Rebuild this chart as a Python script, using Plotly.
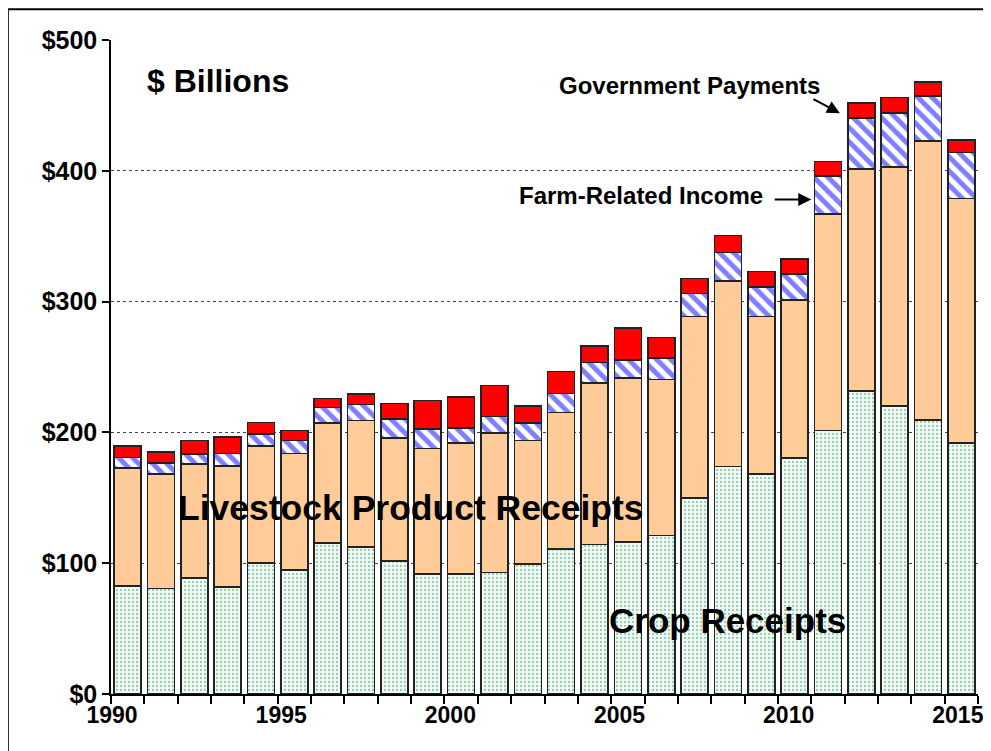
import plotly.graph_objects as go

# Values in $ billions
years = list(range(1990, 2016))
crop_receipts = [82.7, 80.7, 88.6, 82.0, 100.1, 94.7, 115.4, 112.3, 101.6, 91.9,
                 91.9, 92.9, 99.5, 110.8, 114.3, 116.1, 121.2, 149.7, 173.9, 168.1,
                 180.5, 201.4, 231.7, 220.2, 209.5, 191.8]
livestock_receipts = [90.2, 87.4, 87.1, 92.2, 89.6, 89.1, 91.9, 96.7, 94.0, 95.7,
                      99.8, 106.5, 94.2, 104.3, 123.3, 125.3, 119.4, 138.8, 141.8, 120.4,
                      120.7, 165.5, 169.6, 182.9, 213.4, 187.1]
farm_related_income = [7.8, 8.4, 7.9, 9.6, 8.9, 9.9, 11.7, 12.2, 14.7, 14.8,
                       11.7, 12.7, 13.6, 14.5, 15.7, 13.8, 16.5, 17.8, 21.7, 22.7,
                       19.7, 29.1, 39.0, 41.2, 34.4, 35.2]
government_payments = [9.0, 8.4, 10.1, 12.8, 8.9, 7.7, 6.8, 8.0, 11.7, 21.9,
                       23.7, 23.7, 12.7, 17.1, 12.8, 24.4, 15.6, 11.5, 13.0, 11.7,
                       11.6, 11.2, 11.7, 11.8, 10.4, 9.3]
year_labels = ["1990", "1995", "2000", "2005", "2010", "2015"]
y_ticks = [0, 100, 200, 300, 400, 500]

FONT = "Liberation Sans, Arial, sans-serif"
OUTLINE = dict(color="#222222", width=1.6)

fig = go.Figure()

fig.add_trace(go.Bar(
    x=years, y=crop_receipts, name="Crop Receipts",
    marker=dict(color="#eef7f1", line=OUTLINE,
                pattern=dict(shape=".", fgcolor="#2f9a66", bgcolor="#f3faf5",
                             size=4, solidity=0.25)),
))
fig.add_trace(go.Bar(
    x=years, y=livestock_receipts, name="Livestock Product Receipts",
    marker=dict(color="#ffcc99", line=OUTLINE),
))
fig.add_trace(go.Bar(
    x=years, y=farm_related_income, name="Farm-Related Income",
    marker=dict(color="white", line=OUTLINE,
                pattern=dict(shape="\\", fgcolor="#0000ff", bgcolor="white",
                             size=10, solidity=0.5)),
))
fig.add_trace(go.Bar(
    x=years, y=government_payments, name="Government Payments",
    marker=dict(color="#ff0000", line=OUTLINE),
))

# label positions along the category axis (Excel spaces them slightly unevenly)
label_pos = [1989.53 + 5.073 * i for i in range(len(year_labels))]

# the page body adds an 8px offset, margins are reduced to compensate
fig.update_layout(
    barmode="stack",
    bargap=0.19,
    width=991, height=751,
    margin=dict(l=103, r=21, t=32, b=65),
    paper_bgcolor="white",
    plot_bgcolor="white",
    showlegend=False,
    font=dict(family=FONT, color="black"),
    xaxis=dict(
        range=[1989.5, 2015.5],
        tickmode="array", tickvals=label_pos, ticktext=year_labels,
        ticks="", showgrid=False,
        tickfont=dict(size=23, weight="bold"),
        showline=True, linecolor="black", linewidth=1.5,
        minor=dict(tickmode="linear", tick0=1989.5, dtick=1, ticks="outside",
                   ticklen=8, tickcolor="black", tickwidth=1.5, showgrid=False),
    ),
    yaxis=dict(
        range=[0, 500],
        tickmode="array", tickvals=y_ticks,
        ticktext=["$" + str(v) for v in y_ticks],
        ticks="outside", ticklen=7, tickcolor="black", tickwidth=1.5,
        tickfont=dict(size=25, weight="bold"),
        showline=True, linecolor="black", linewidth=1.5,
        showgrid=True, gridcolor="#444444", griddash="dot", gridwidth=1,
        zeroline=False,
    ),
)

# text labels inside the plot
labels = [
    ("$ Billions", 1992.7, 469, 32),
    ("Livestock Product Receipts", 1998.5, 142, 35.5),
    ("Crop Receipts", 2008.0, 56, 35),
    ("Government Payments", 2006.85, 465, 24),
    ("Farm-Related Income", 2005.4, 381, 24),
]
for text, x, y, size in labels:
    fig.add_annotation(x=x, y=y, text="<b>" + text + "</b>", showarrow=False,
                       font=dict(size=size, family=FONT, color="black"))

# arrows pointing at the 2011/2012 bars
fig.add_annotation(x=2011.36, y=444, ax=-28, ay=-15, text="", showarrow=True,
                   arrowhead=2, arrowsize=1.3, arrowwidth=2, arrowcolor="black")
fig.add_annotation(x=2010.5, y=378, ax=-38, ay=0, text="", showarrow=True,
                   arrowhead=2, arrowsize=1.3, arrowwidth=2, arrowcolor="black")

# outer frame of the chart
fig.add_shape(type="rect", xref="paper", yref="paper",
              x0=-0.119, x1=1.008, y0=-0.2, y1=1.047,
              line=dict(color="black", width=2), layer="below")

fig.write_html("out.html")
